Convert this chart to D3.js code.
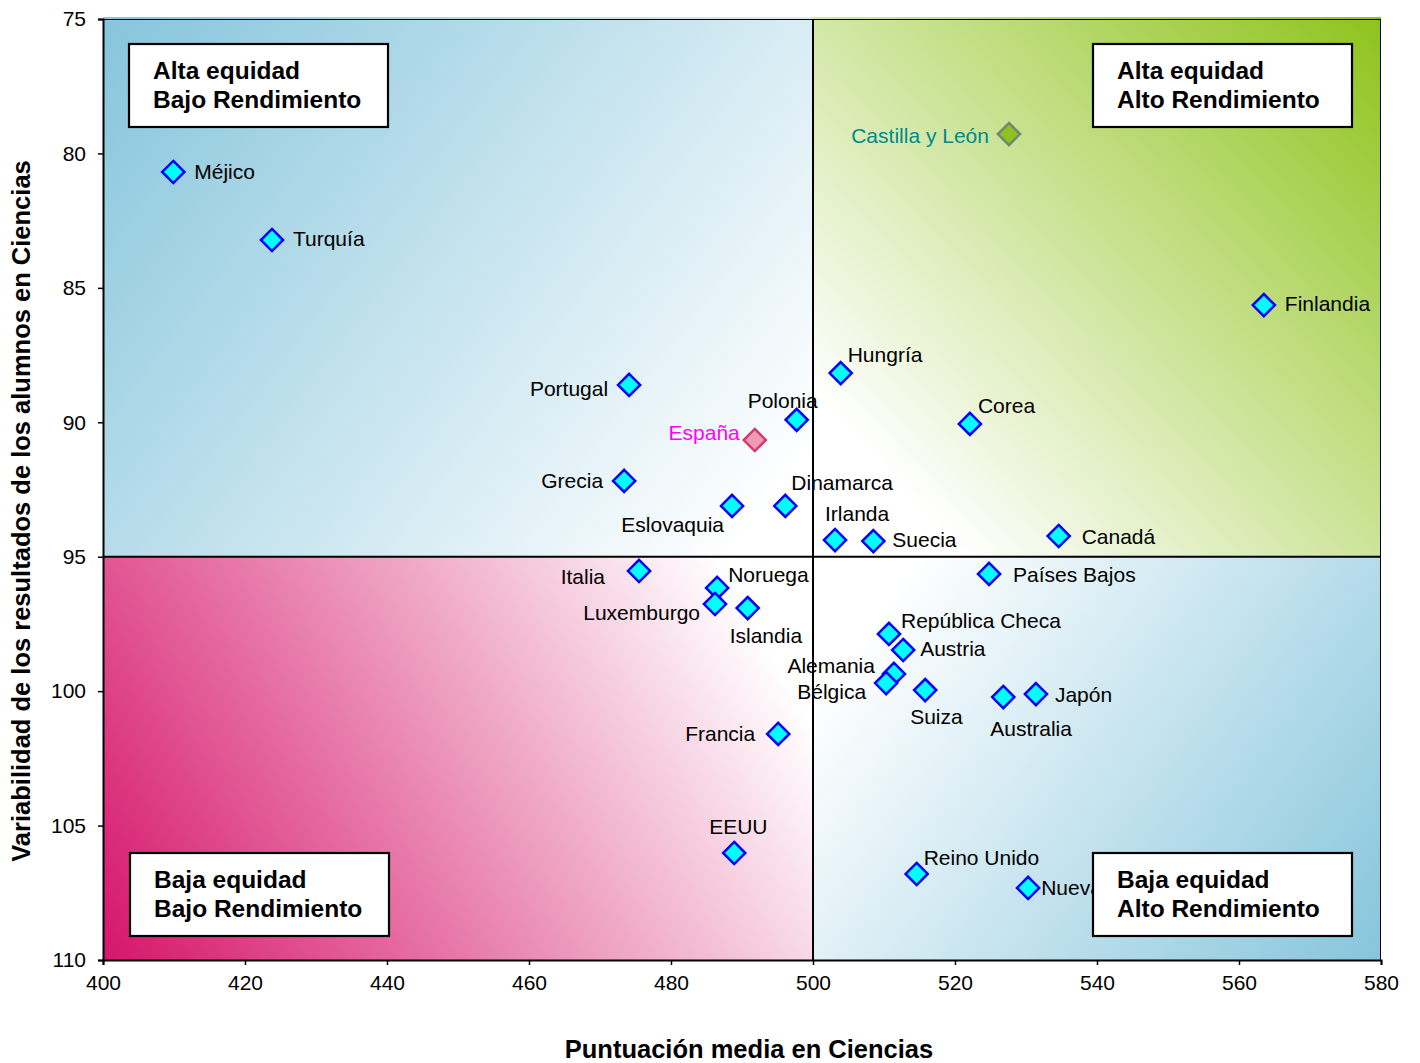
<!DOCTYPE html>
<html>
<head>
<meta charset="utf-8">
<script src="https://cdn.jsdelivr.net/npm/d3@7"></script>
<style>
  html, body { margin: 0; padding: 0; background: #ffffff; }
  svg { display: block; font-family: "Liberation Sans", Arial, sans-serif; }
</style>
</head>
<body>
<svg id="chart" width="1420" height="1063"></svg>
<script>
// ---- Data ----
const countries = ["Méjico","Turquía","Finlandia","Castilla y León","Hungría","Portugal","Polonia","Corea","España","Grecia","Eslovaquia","Dinamarca","Irlanda","Suecia","Canadá","Italia","Países Bajos","Noruega","Luxemburgo","Islandia","República Checa","Austria","Alemania","Bélgica","Suiza","Australia","Japón","Francia","EEUU","Reino Unido","Nueva Zelanda"];
const scores = [409.9, 423.8, 563.5, 527.6, 503.9, 474.1, 497.7, 522.1, 491.8, 473.4, 488.6, 496.1, 503.1, 508.5, 534.6, 475.5, 524.8, 486.5, 486.2, 490.8, 510.7, 512.7, 511.4, 510.3, 515.8, 526.8, 531.4, 495.1, 488.9, 514.6, 530.3];
const variability = [80.69, 83.22, 85.64, 79.28, 88.17, 88.61, 89.91, 90.06, 90.66, 92.18, 93.11, 93.11, 94.38, 94.42, 94.23, 95.53, 95.64, 96.16, 96.76, 96.91, 97.87, 98.47, 99.36, 99.70, 99.96, 100.22, 100.11, 101.59, 106.02, 106.80, 107.32];
const xTicks = [400, 420, 440, 460, 480, 500, 520, 540, 560, 580];
const yTicks = [75, 80, 85, 90, 95, 100, 105, 110];
const xDomain = [400, 580];
const yDomain = [75, 110];
const xSplit = 500;
const ySplit = 95;
const quadrantTitles = [
  ["Alta equidad", "Bajo Rendimiento"],
  ["Alta equidad", "Alto Rendimiento"],
  ["Baja equidad", "Bajo Rendimiento"],
  ["Baja equidad", "Alto Rendimiento"]
];
const xTitle = "Puntuación media en Ciencias";
const yTitle = "Variabilidad de los resultados de los alumnos en Ciencias";

// ---- Layout / styling ----
const margin = { left: 103, top: 19, right: 1420 - 1381, bottom: 1063 - 960 };
const W = 1420, H = 1063;
const svg = d3.select("#chart");

const x = d3.scaleLinear().domain(xDomain).range([margin.left, W - margin.right]);
const y = d3.scaleLinear().domain(yDomain).range([margin.top, H - margin.bottom]);

const X0 = x(xDomain[0]), X1 = x(xDomain[1]), XM = x(xSplit);
const Y0 = y(yDomain[0]), Y1 = y(yDomain[1]), YM = y(ySplit);

// label placement: [anchor, dx, dy(center)]
const labelPlace = {
  "Méjico": ["start", 21, -1],
  "Turquía": ["start", 21, -2],
  "Finlandia": ["start", 21, -2],
  "Castilla y León": ["end", -20, 1],
  "Hungría": ["start", 7, -19],
  "Portugal": ["end", -21, 4],
  "Polonia": ["start", -49, -19],
  "Corea": ["start", 8, -18],
  "España": ["end", -15, -8],
  "Grecia": ["end", -21, 0],
  "Eslovaquia": ["end", -8, 19],
  "Dinamarca": ["start", 6, -23],
  "Irlanda": ["start", -10, -27],
  "Suecia": ["start", 19, -2],
  "Canadá": ["start", 23, 0],
  "Italia": ["end", -34, 5],
  "Países Bajos": ["start", 24, 1],
  "Noruega": ["start", 11, -13],
  "Luxemburgo": ["end", -15, 8],
  "Islandia": ["start", -18, 27],
  "República Checa": ["start", 12, -13],
  "Austria": ["start", 17, -2],
  "Alemania": ["end", -19, -8],
  "Bélgica": ["end", -20, 8],
  "Suiza": ["start", -15, 26],
  "Australia": ["start", -13, 31],
  "Japón": ["start", 19, 0],
  "Francia": ["end", -23, 0],
  "EEUU": ["start", -25, -27],
  "Reino Unido": ["start", 7, -17],
  "Nueva Zelanda": ["start", 13, -1]
};
const special = {
  "España": { fill: "#f19ab5", stroke: "#d63a6e", text: "#ff00ff" },
  "Castilla y León": { fill: "#8fc21f", stroke: "#6d8a72", text: "#008a8a" }
};

// ---- Gradients ----
const defs = svg.append("defs");
function grad(id, color, x1, y1, x2, y2, whiteAt) {
  const g = defs.append("linearGradient").attr("id", id)
    .attr("gradientUnits", "userSpaceOnUse")
    .attr("x1", x1).attr("y1", y1).attr("x2", x2).attr("y2", y2);
  g.append("stop").attr("offset", 0).attr("stop-color", color);
  g.append("stop").attr("offset", whiteAt).attr("stop-color", "#ffffff");
  g.append("stop").attr("offset", 1).attr("stop-color", "#ffffff");
}
grad("gTL", "#86c5dc", X0, Y0, XM, YM, 0.93);
grad("gTR", "#8ec31c", X1, Y0, XM, YM, 0.86);
grad("gBL", "#d6156a", X0, Y1, XM, YM, 0.9);
grad("gBR", "#86c5dc", X1, Y1, XM, YM, 0.88);

svg.append("rect").attr("x", X0).attr("y", Y0 - 2).attr("width", XM - X0).attr("height", YM - Y0 + 2).attr("fill", "url(#gTL)");
svg.append("rect").attr("x", XM).attr("y", Y0 - 2).attr("width", X1 - XM).attr("height", YM - Y0 + 2).attr("fill", "url(#gTR)");
svg.append("rect").attr("x", X0).attr("y", YM).attr("width", XM - X0).attr("height", Y1 - YM).attr("fill", "url(#gBL)");
svg.append("rect").attr("x", XM).attr("y", YM).attr("width", X1 - XM).attr("height", Y1 - YM).attr("fill", "url(#gBR)");

// plot border top/right
svg.append("line").attr("x1", X0).attr("x2", X1).attr("y1", Y0 + 0.5).attr("y2", Y0 + 0.5).attr("stroke", "#000").attr("stroke-width", 1);
svg.append("line").attr("x1", X1 - 0.5).attr("x2", X1 - 0.5).attr("y1", Y0).attr("y2", Y1).attr("stroke", "#000").attr("stroke-width", 1);

// ---- Axes ----
const xAxis = svg.append("g").attr("transform", `translate(0,${Y1})`)
  .call(d3.axisBottom(x).tickValues(xTicks).tickSize(5).tickPadding(7).tickFormat(d3.format("d")));
const yAxis = svg.append("g").attr("transform", `translate(${X0},0)`)
  .call(d3.axisLeft(y).tickValues(yTicks).tickSize(5).tickPadding(12).tickFormat(d3.format("d")));
[xAxis, yAxis].forEach(a => {
  a.select(".domain").attr("stroke", "#000").attr("stroke-width", 2);
  a.selectAll(".tick line").attr("stroke", "#000").attr("stroke-width", 1.5);
  a.selectAll(".tick text").attr("fill", "#000").style("font-size", "21px")
    .style("font-family", '"Liberation Sans", Arial, sans-serif');
});
xAxis.selectAll(".tick text").attr("dy", "0.85em");

// split lines
svg.append("line").attr("x1", X0).attr("x2", X1).attr("y1", YM).attr("y2", YM).attr("stroke", "#000").attr("stroke-width", 2);
svg.append("line").attr("x1", XM).attr("x2", XM).attr("y1", Y0).attr("y2", Y1).attr("stroke", "#000").attr("stroke-width", 2);

// ---- Points ----
const data = countries.map((c, i) => ({ name: c, sx: scores[i], vy: variability[i] }));
const diamond = d3.symbol().type(d3.symbolDiamond2).size(2 * 12.5 * 12.5);
const pts = svg.append("g");
pts.selectAll("path").data(data).join("path")
  .attr("d", diamond)
  .attr("transform", d => `translate(${x(d.sx)},${y(d.vy)})`)
  .attr("fill", d => special[d.name] ? special[d.name].fill : "#00ffff")
  .attr("stroke", d => special[d.name] ? special[d.name].stroke : "#0000ff")
  .attr("stroke-width", 2.5);

const fs = 21;
svg.append("g").selectAll("text").data(data).join("text")
  .attr("x", d => x(d.sx) + labelPlace[d.name][1])
  .attr("y", d => y(d.vy) + labelPlace[d.name][2] + fs * 0.36)
  .attr("text-anchor", d => labelPlace[d.name][0])
  .attr("fill", d => special[d.name] ? special[d.name].text : "#000")
  .style("font-size", fs + "px")
  .text(d => d.name);

// ---- Quadrant boxes ----
const boxW = 259, boxH = 83;
const boxPos = [
  [X0 + 26, Y0 + 25],
  [X1 - 29 - boxW, Y0 + 25],
  [X0 + 27, Y1 - 107],
  [X1 - 29 - boxW, Y1 - 107]
];
quadrantTitles.forEach((lines, i) => {
  const [bx, by] = boxPos[i];
  const g = svg.append("g");
  g.append("rect").attr("x", bx).attr("y", by).attr("width", boxW).attr("height", boxH)
    .attr("fill", "#fff").attr("stroke", "#000").attr("stroke-width", 2.2);
  lines.forEach((t, j) => {
    g.append("text").attr("x", bx + 24).attr("y", by + 35 + j * 29)
      .style("font-size", "24.5px").style("font-weight", "bold").attr("fill", "#000").text(t);
  });
});

// ---- Axis titles ----
svg.append("text").attr("x", 749).attr("y", 1058).attr("text-anchor", "middle")
  .style("font-size", "25.5px").style("font-weight", "bold").text(xTitle);
svg.append("text").attr("transform", `translate(30,511) rotate(-90)`).attr("text-anchor", "middle")
  .style("font-size", "25.5px").style("font-weight", "bold").text(yTitle);
</script>
</body>
</html>
